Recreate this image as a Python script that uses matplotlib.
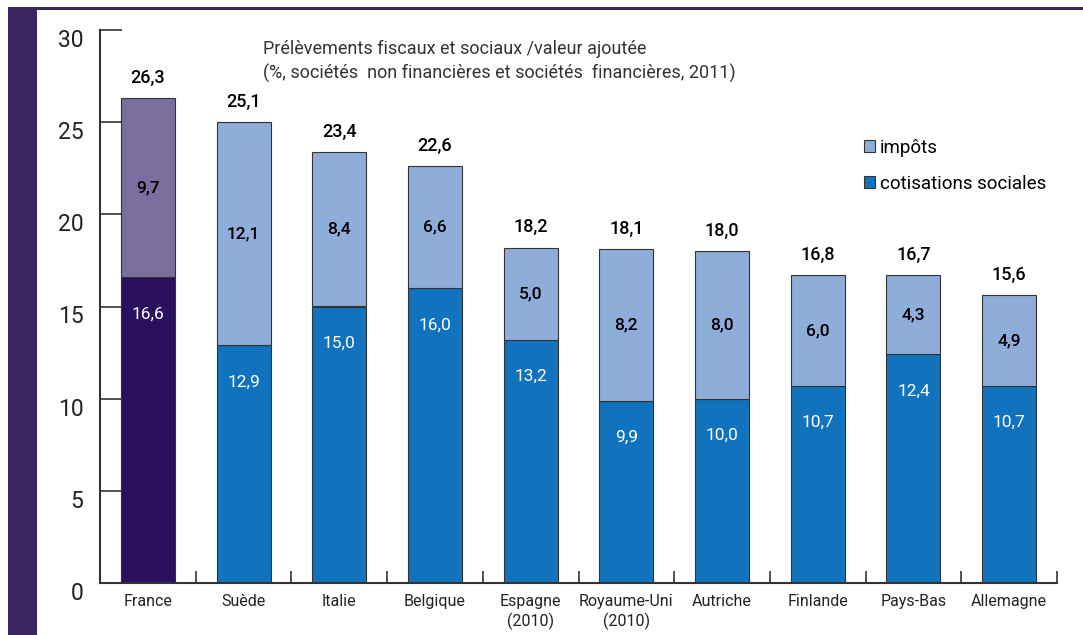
import matplotlib
matplotlib.use("Agg")
import matplotlib.pyplot as plt
from matplotlib.patches import Rectangle, Patch
from matplotlib.transforms import ScaledTranslation
import numpy as np

plt.rcParams['font.family'] = ['Roboto', 'DejaVu Sans']

countries = ["France", "Suède", "Italie", "Belgique", "Espagne\n(2010)", "Royaume-Uni\n(2010)",
             "Autriche", "Finlande", "Pays-Bas", "Allemagne"]
cotisations = [16.6, 12.9, 15.0, 16.0, 13.2, 9.9, 10.0, 10.7, 12.4, 10.7]
impots = [9.7, 12.1, 8.4, 6.6, 5.0, 8.2, 8.0, 6.0, 4.3, 4.9]
totals = [26.3, 25.1, 23.4, 22.6, 18.2, 18.1, 18.0, 16.8, 16.7, 15.6]
yticks = [0, 5, 10, 15, 20, 25, 30]
title = "Prélèvements fiscaux et sociaux /valeur ajoutée\n(%, sociétés  non financières et sociétés  financières, 2011)"

W, H = 1083, 635
fig = plt.figure(figsize=(W / 100, H / 100), dpi=100)
ax = fig.add_axes([100 / W, 1 - 583 / H, (1057 - 100) / W, (583 - 30) / H])

purple = "#3b2560"
fig.add_artist(Rectangle((8 / W, 0), (37 - 8) / W, 1 - 7 / H, transform=fig.transFigure,
                         color=purple, lw=0, zorder=0))
fig.add_artist(Rectangle((8 / W, 1 - 10 / H), 1, 3 / H, transform=fig.transFigure,
                         color=purple, lw=0, zorder=0))

x = np.arange(len(countries))
cot_colors = ["#2b1060"] + ["#1172be"] * (len(countries) - 1)
imp_colors = ["#7b6fa0"] + ["#8fadd9"] * (len(countries) - 1)
width = 0.565
ax.bar(x, cotisations, width, color=cot_colors, edgecolor="#333333", linewidth=0.8, zorder=2)
ax.bar(x, impots, width, bottom=cotisations, color=imp_colors, edgecolor="#333333",
       linewidth=0.8, zorder=2)

def fmt(v):
    return f"{v:.1f}".replace(".", ",")

for xi, c, i, t in zip(x, cotisations, impots, totals):
    ax.text(xi, c - 2.0, fmt(c), ha="center", va="center", color="white", fontsize=12.5, zorder=3)
    ax.text(xi, c + i / 2, fmt(i), ha="center", va="center", color="black", fontsize=12.5,
            fontweight="medium", zorder=3)
    ax.annotate(fmt(t), (xi, c + i), xytext=(0, 14.5), textcoords="offset points",
                ha="center", va="center", fontsize=13, fontweight="medium")

ax.set_xlim(-0.5, 9.5)
ax.set_ylim(0, 30)
ax.set_yticks(yticks)
ax.set_yticklabels([str(v) for v in yticks], fontsize=16.5, color="#222222")
ax.tick_params(axis="y", direction="in", length=16, width=1.2, color="#333333", pad=12)
for lab in ax.get_yticklabels():
    lab.set_transform(lab.get_transform() + ScaledTranslation(0, -8 / 100, fig.dpi_scale_trans))
ax.set_xticks(x)
ax.set_xticklabels(countries, fontsize=11.5, linespacing=1.25, color="#222222")
ax.tick_params(axis="x", length=0, pad=8)
ax.set_xticks(x + 0.5, minor=True)
ax.tick_params(axis="x", which="minor", direction="in", length=9, width=1.2, color="#333333")

for s in ["top", "right"]:
    ax.spines[s].set_visible(False)
for s in ["left", "bottom"]:
    ax.spines[s].set_color("#333333")
    ax.spines[s].set_linewidth(1.5)

fig.text(263 / W, 1 - 40 / H, title, ha="left", va="top", fontsize=13, color="#333333",
         linespacing=1.4)

handles = [Patch(facecolor="#8fadd9", edgecolor="#333333", linewidth=0.8, label="impôts"),
           Patch(facecolor="#1172be", edgecolor="#333333", linewidth=0.8, label="cotisations sociales")]
fig.legend(handles=handles, loc="upper left", bbox_to_anchor=(864 / W, 1 - 139 / H),
           frameon=False, fontsize=13.5, handlelength=0.6, handleheight=0.6,
           handletextpad=0.25, labelspacing=0.95, borderaxespad=0, borderpad=0)

fig.savefig("out.png", dpi=100)
